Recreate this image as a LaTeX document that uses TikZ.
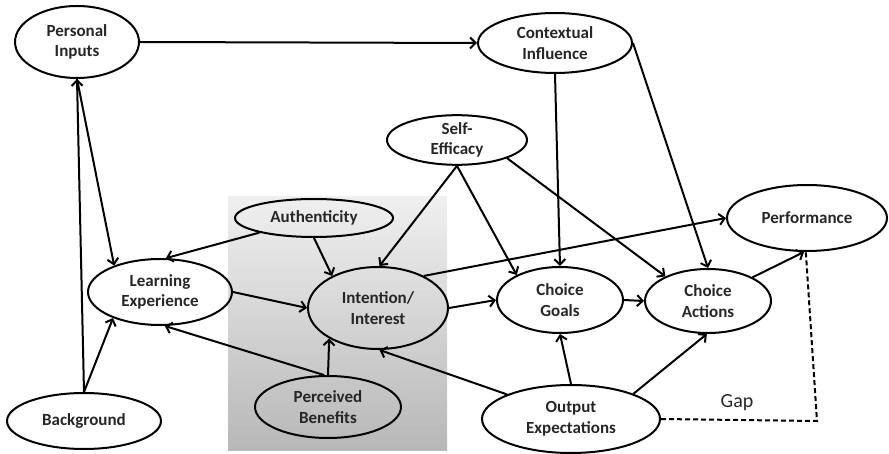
\documentclass[tikz,border=0pt]{standalone}
\usepackage{fontspec}
\setmainfont{Carlito}
\usetikzlibrary{shapes.geometric,arrows.meta}
\begin{document}
\begin{tikzpicture}[x=1pt,y=-1pt,
  ov/.style={draw, ellipse, line width=2pt, inner sep=0pt, align=center,
    font=\fontsize{17}{20.5}\selectfont\bfseries, text=black!85},
  arr/.style={line width=2pt, -{Straight Barb[length=5.5pt,width=11pt]}},
  gapline/.style={line width=2pt, dash pattern=on 5pt off 3pt}]
\useasboundingbox (0,0) rectangle (889,454);
\shade[top color=black!6, bottom color=black!28] (228,197) rectangle (447,450);
\node[ov, minimum width=124pt, minimum height=72pt] (pi) at (77,42) {Personal\\Inputs};
\node[ov, minimum width=154pt, minimum height=60pt] (ci) at (555,43) {Contextual\\Influence};
\node[ov, minimum width=140pt, minimum height=46pt] (se) at (457,140) {Self-\\Efficacy};
\node[ov, minimum width=158pt, minimum height=38pt] (auth) at (314,218) {Authenticity};
\node[ov, minimum width=160pt, minimum height=66pt] (perf) at (807,218) {Performance};
\node[ov, minimum width=144pt, minimum height=66pt] (le) at (160,292) {Learning\\Experience};
\node[ov, minimum width=140pt, minimum height=82pt] (int) at (378,308) {Intention/\\Interest};
\node[ov, minimum width=146pt, minimum height=62pt] (pb) at (328,407) {Perceived\\Benefits};
\node[ov, minimum width=154pt, minimum height=56pt] (bg) at (84,421) {Background};
\node[ov, minimum width=126pt, minimum height=66pt] (cg) at (560,300) {Choice\\Goals};
\node[ov, minimum width=126pt, minimum height=64pt] (ca) at (708,301) {Choice\\Actions};
\node[ov, minimum width=178pt, minimum height=68pt] (oe) at (571,419) {Output\\Expectations};
\coordinate (gapc) at (817,421);
\node[font=\fontsize{20}{24}\selectfont, text=black!85] (gap) at (737,403) {Gap};

\draw[arr] (pi.east) -- (ci.west);
\draw[arr] (bg.north) -- (pi.south);
\draw[arr] (pi.south) -- (le.150);
\draw[arr] (bg.north) -- (le.209);
\draw[arr] (auth.195) -- (le.80);
\draw[arr] (auth.south) -- (int.145);
\draw[arr] (se.south) -- (int.88);
\draw[arr] (se.south) -- (cg.150);
\draw[arr] (se.-20) -- (ca.150);
\draw[arr] (ci.south) -- (cg.north);
\draw[arr] (ci.east) -- (ca.north);
\draw[arr] (int.35) -- (perf.west);
\draw[arr] (le.east) -- (int.west);
\draw[arr] (int.east) -- (cg.west);
\draw[arr] (cg.east) -- (ca.west);
\draw[arr] (ca.28) -- (perf.-95);
\draw[arr] (pb.north) -- (int.212);
\draw[arr] (pb.97) -- (le.-82);
\draw[arr] (oe.159) -- (int.-88);
\draw[arr] (oe.north) -- (cg.south);
\draw[arr] (oe.22) -- (ca.-92);
\draw[gapline] (oe.east) -- (gapc) -- (perf.-92);
\end{tikzpicture}
\end{document}
